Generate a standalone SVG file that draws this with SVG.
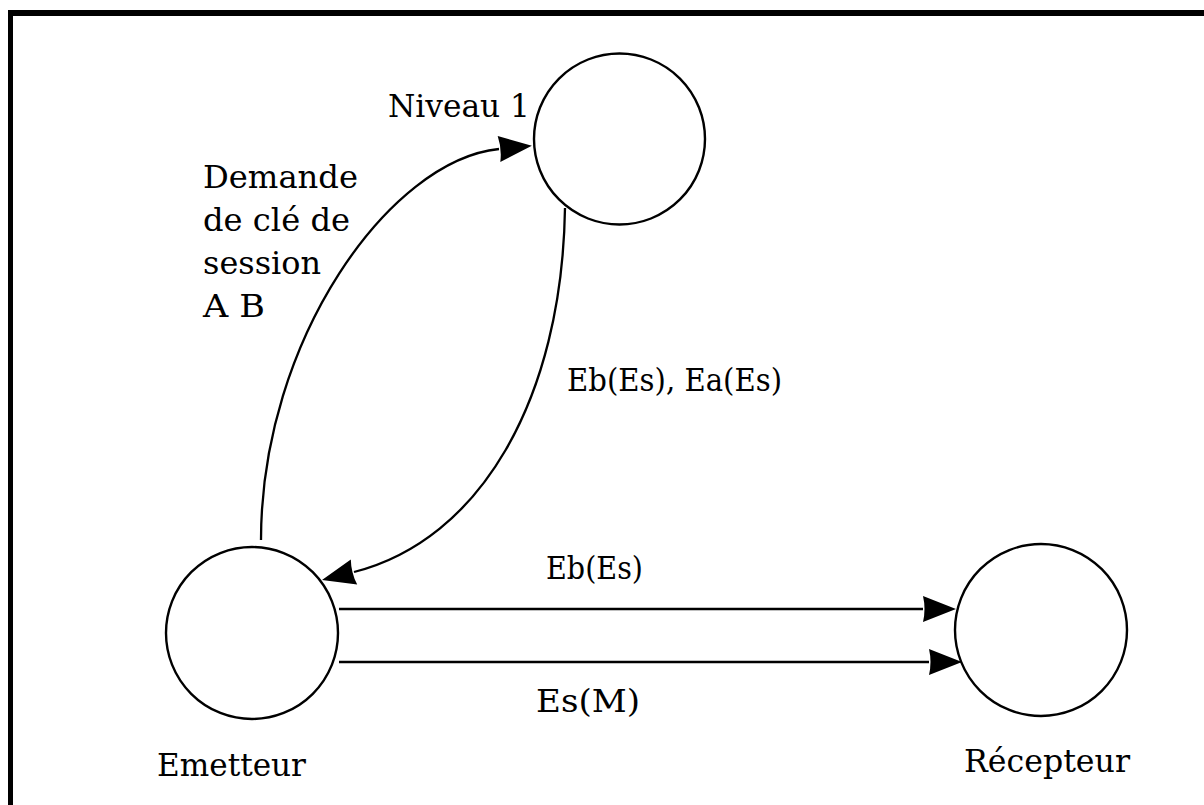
<svg xmlns="http://www.w3.org/2000/svg" width="1204" height="805" viewBox="0 0 1204 805">
  <defs>
    <style>
      .node { fill: #ffffff; stroke: #000000; stroke-width: 2.4; }
      .edge { fill: none; stroke: #000000; stroke-width: 2.3; }
      .label { font-family: "DejaVu Serif", "Liberation Serif", serif; font-size: 31px; fill: #000000; }
      .frame { stroke: #000000; fill: none; }
    </style>
    <marker id="arrow" markerUnits="userSpaceOnUse" markerWidth="36" markerHeight="30" refX="0" refY="13" orient="auto" overflow="visible">
      <path d="M0,0 L33,13 L0,26 Q3,13 0,0 Z" fill="#000000"/>
    </marker>
  </defs>

  <rect width="1204" height="805" fill="#ffffff"/>

  <!-- frame: top and left rules only -->
  <g id="frame">
    <line class="frame" x1="8" y1="13" x2="1204" y2="13" stroke-width="6"/>
    <line class="frame" x1="10.5" y1="10" x2="10.5" y2="805" stroke-width="5"/>
  </g>

  <!-- nodes -->
  <g id="niveau1">
    <circle class="node" cx="619.5" cy="139" r="85.5"/>
    <text class="label" x="388" y="117" textLength="142" lengthAdjust="spacingAndGlyphs">Niveau 1</text>
  </g>
  <g id="emetteur">
    <circle class="node" cx="252" cy="633" r="86"/>
    <text class="label" x="157" y="776" textLength="149" lengthAdjust="spacingAndGlyphs">Emetteur</text>
  </g>
  <g id="recepteur">
    <circle class="node" cx="1041" cy="630" r="86"/>
    <text class="label" x="964" y="772" textLength="166" lengthAdjust="spacingAndGlyphs">Récepteur</text>
  </g>

  <!-- connectors -->
  <g id="connectors">
    <path class="edge" d="M261,540 C261,340 390,160 499,149" marker-end="url(#arrow)"/>
    <path class="edge" d="M565,208 C562,400 480,540 354,572" marker-end="url(#arrow)"/>
    <path class="edge" d="M339,609 H923" marker-end="url(#arrow)"/>
    <path class="edge" d="M339,662 H929" marker-end="url(#arrow)"/>
  </g>

  <!-- connector labels -->
  <g id="edge-labels">
    <text class="label" x="203" y="188" textLength="155" lengthAdjust="spacingAndGlyphs">Demande</text>
    <text class="label" x="203" y="231" textLength="147" lengthAdjust="spacingAndGlyphs">de clé de</text>
    <text class="label" x="203" y="274" textLength="118" lengthAdjust="spacingAndGlyphs">session</text>
    <text class="label" x="203" y="317" textLength="62" lengthAdjust="spacingAndGlyphs">A B</text>
    <text class="label" x="567" y="391" textLength="215" lengthAdjust="spacingAndGlyphs">Eb(Es), Ea(Es)</text>
    <text class="label" x="546" y="579" textLength="97" lengthAdjust="spacingAndGlyphs">Eb(Es)</text>
    <text class="label" x="536" y="712" textLength="104" lengthAdjust="spacingAndGlyphs">Es(M)</text>
  </g>
</svg>
